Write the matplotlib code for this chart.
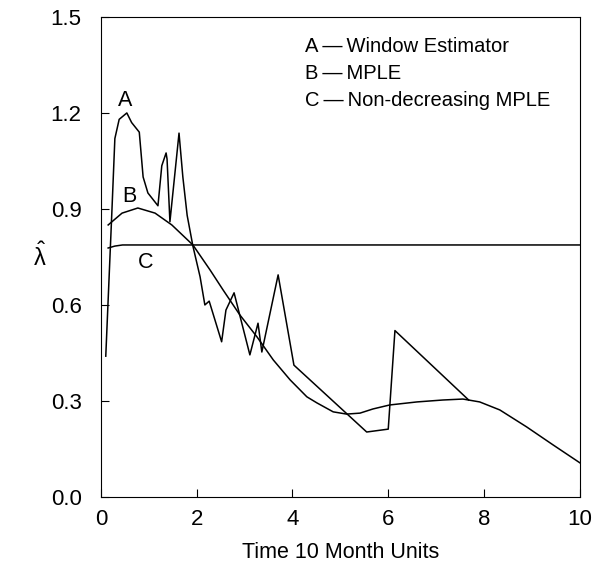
import numpy as np
import matplotlib
matplotlib.use('Agg')
import matplotlib.pyplot as plt

plt.rcParams['font.family'] = ['Liberation Sans', 'DejaVu Sans']
plt.rcParams['mathtext.default'] = 'regular'

# A - window estimator
t_a = [0.10, 0.23, 0.29, 0.38, 0.54, 0.64, 0.80, 0.88, 0.98, 1.19, 1.27, 1.36,
       1.38, 1.44, 1.55, 1.63, 1.71, 1.80, 1.92, 2.07, 2.17, 2.26, 2.52, 2.61,
       2.78, 3.11, 3.28, 3.36, 3.70, 4.03, 5.55, 6.00, 6.14, 7.68]
lam_a = [0.44, 0.90, 1.12, 1.18, 1.20, 1.17, 1.14, 1.00, 0.95, 0.91, 1.035, 1.075,
         1.056, 0.86, 1.02, 1.137, 1.00, 0.88, 0.784, 0.688, 0.60, 0.612, 0.485, 0.584,
         0.638, 0.444, 0.543, 0.453, 0.694, 0.412, 0.203, 0.212, 0.52, 0.303]

# B - MPLE
t_b = [0.15, 0.44, 0.77, 1.13, 1.48, 1.92, 2.28, 2.55, 2.90, 3.26, 3.60, 3.95,
       4.30, 4.51, 4.85, 5.13, 5.41, 5.68, 6.03, 6.60, 7.14, 7.56, 7.91, 8.33,
       8.89, 9.44, 10.0]
lam_b = [0.85, 0.887, 0.903, 0.887, 0.85, 0.7875, 0.709, 0.647, 0.569, 0.50, 0.428, 0.366,
         0.313, 0.294, 0.266, 0.259, 0.262, 0.275, 0.2875, 0.297, 0.303, 0.306, 0.297, 0.272,
         0.219, 0.163, 0.107]

# C - non-decreasing MPLE
t_c = [0.15, 0.29, 0.45, 10.0]
lam_c = [0.778, 0.784, 0.7875, 0.7875]

legend_lines = ['A\u2009\u2014\u2009Window Estimator', 'B\u2009\u2014\u2009MPLE',
                'C\u2009\u2014\u2009Non-decreasing MPLE']

fig = plt.figure(figsize=(5.94, 5.65), dpi=100)
ax = fig.add_axes([0.170, 0.1204, 0.806, 0.8496])

ax.plot(t_a, lam_a, color='black', lw=1.1)
ax.plot(t_b, lam_b, color='black', lw=1.1)
ax.plot(t_c, lam_c, color='black', lw=1.1)

ax.text(0.5, 1.24, 'A', fontsize=15.5, ha='center', va='center')
ax.text(0.6, 0.9375, 'B', fontsize=15.5, ha='center', va='center')
ax.text(0.94, 0.734, 'C', fontsize=15.5, ha='center', va='center')

for i, s in enumerate(legend_lines):
    ax.text(4.26, 1.409 - i * 0.0857, s, fontsize=14.5, ha='left', va='center')

ax.set_xlim(0, 10)
ax.set_ylim(0, 1.5)
ax.set_xticks([0, 2, 4, 6, 8, 10])
ax.set_yticks([0.0, 0.3, 0.6, 0.9, 1.2, 1.5])
ax.set_yticklabels(['0.0', '0.3', '0.6', '0.9', '1.2', '1.5'])
ax.tick_params(direction='in', length=6, labelsize=16, top=False, right=False)
ax.tick_params(axis='x', pad=9)
ax.tick_params(axis='y', pad=14)
ax.set_xlabel('Time 10 Month Units', fontsize=15.5, labelpad=8)
ax.set_ylabel(r'$\hat{\lambda}$', fontsize=17, rotation=0, labelpad=8, va='center')

plt.savefig('out.png', dpi=100)
